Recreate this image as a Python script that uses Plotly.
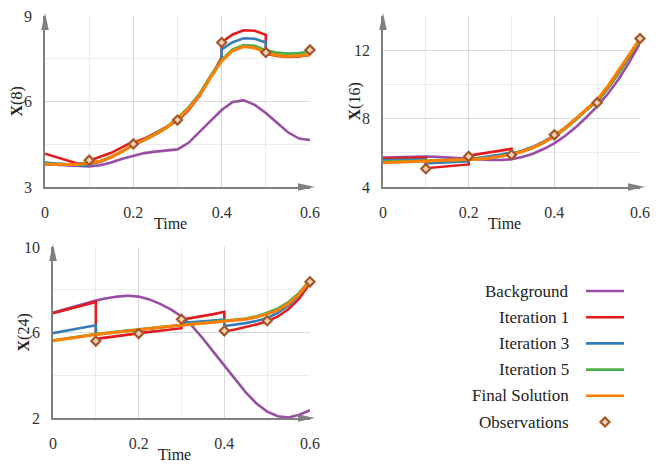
import plotly.graph_objects as go

# time grids: smooth curves and assimilation windows (repeated times = jumps)
t_smooth = [0, 0.025, 0.05, 0.075, 0.1, 0.125, 0.15, 0.175, 0.2, 0.225, 0.25, 0.275, 0.3,
            0.325, 0.35, 0.375, 0.4, 0.425, 0.45, 0.475, 0.5, 0.525, 0.55, 0.575, 0.6]
t_windows = [0, 0.025, 0.05, 0.075, 0.1,
             0.1, 0.125, 0.15, 0.175, 0.2,
             0.2, 0.225, 0.25, 0.275, 0.3,
             0.3, 0.325, 0.35, 0.375, 0.4,
             0.4, 0.425, 0.45, 0.475, 0.5,
             0.5, 0.525, 0.55, 0.575, 0.6]
t_obs = [0.1, 0.2, 0.3, 0.4, 0.5, 0.6]

# X(8)
x8_background = [3.80, 3.78, 3.76, 3.73, 3.72, 3.76, 3.86, 3.99, 4.10, 4.19, 4.24, 4.27, 4.32,
                 4.55, 4.92, 5.32, 5.70, 5.98, 6.04, 5.88, 5.60, 5.25, 4.92, 4.70, 4.65]
x8_iter1 = [4.17, 4.05, 3.93, 3.82, 3.85, 3.92, 4.06, 4.20, 4.40, 4.60,
            4.55, 4.70, 4.90, 5.10, 5.32, 5.32, 5.70, 6.20, 6.85, 7.55,
            8.08, 8.35, 8.50, 8.48, 8.34, 7.68, 7.60, 7.56, 7.58, 7.63]
x8_iter3 = [3.86, 3.83, 3.79, 3.76, 3.76, 3.80, 3.88, 4.04, 4.24, 4.47,
            4.47, 4.64, 4.84, 5.07, 5.37, 5.37, 5.74, 6.22, 6.86, 7.45,
            7.83, 8.08, 8.22, 8.20, 8.07, 7.70, 7.62, 7.58, 7.60, 7.65]
x8_iter5 = [3.82, 3.80, 3.79, 3.80, 3.84, 3.91, 4.06, 4.26, 4.49, 4.66, 4.87, 5.10, 5.41,
            5.79, 6.27, 6.90, 7.46, 7.83, 7.98, 7.95, 7.80, 7.71, 7.68, 7.70, 7.75]
x8_final = [3.80, 3.79, 3.78, 3.79, 3.83, 3.90, 4.05, 4.25, 4.48, 4.65, 4.85, 5.08, 5.38,
            5.75, 6.22, 6.85, 7.42, 7.78, 7.93, 7.88, 7.72, 7.62, 7.58, 7.60, 7.64]
x8_obs = [3.94, 4.51, 5.35, 8.07, 7.72, 7.81]

# X(16)
x16_background = [5.72, 5.74, 5.76, 5.77, 5.78, 5.76, 5.72, 5.68, 5.64, 5.60, 5.58, 5.58, 5.62,
                  5.75, 5.95, 6.22, 6.55, 6.98, 7.50, 8.08, 8.72, 9.45, 10.3, 11.3, 12.4]
x16_iter1 = [5.67, 5.68, 5.69, 5.70, 5.72, 5.10, 5.15, 5.20, 5.25, 5.32,
             5.83, 5.93, 6.03, 6.13, 6.23, 5.92, 6.10, 6.33, 6.62, 7.00,
             7.00, 7.45, 7.98, 8.55, 9.05, 8.98, 9.78, 10.65, 11.6, 12.6]
x16_iter3 = [5.57, 5.58, 5.58, 5.59, 5.60, 5.38, 5.41, 5.44, 5.47, 5.50,
             5.62, 5.70, 5.80, 5.90, 6.02, 5.95, 6.12, 6.35, 6.65, 7.02,
             7.02, 7.46, 8.00, 8.58, 9.08, 9.00, 9.80, 10.7, 11.65, 12.62]
x16_iter5 = [5.48, 5.49, 5.50, 5.51, 5.52, 5.54, 5.56, 5.58, 5.61, 5.65, 5.71, 5.79, 5.91,
             6.07, 6.29, 6.58, 6.95, 7.40, 7.92, 8.50, 9.00, 9.80, 10.68, 11.65, 12.62]
x16_final = [5.42, 5.44, 5.46, 5.48, 5.50, 5.52, 5.54, 5.57, 5.60, 5.64, 5.70, 5.78, 5.90,
             6.07, 6.30, 6.60, 6.98, 7.45, 8.00, 8.60, 9.10, 9.90, 10.8, 11.75, 12.7]
x16_obs = [5.07, 5.79, 5.88, 7.05, 8.93, 12.68]

# X(24)
x24_background = [6.93, 7.08, 7.22, 7.36, 7.50, 7.60, 7.68, 7.72, 7.68, 7.55, 7.34, 7.08, 6.75,
                  6.30, 5.72, 5.08, 4.45, 3.80, 3.20, 2.68, 2.30, 2.08, 2.02, 2.15, 2.36]
x24_iter1 = [6.90, 7.03, 7.17, 7.30, 7.43, 5.70, 5.77, 5.84, 5.91, 5.98,
             5.98, 6.03, 6.08, 6.14, 6.20, 6.60, 6.68, 6.77, 6.86, 6.97,
             6.05, 6.14, 6.25, 6.38, 6.52, 6.52, 6.75, 7.10, 7.60, 8.30]
x24_iter3 = [5.97, 6.07, 6.16, 6.25, 6.34, 5.90, 5.96, 6.02, 6.08, 6.14,
             6.14, 6.20, 6.25, 6.30, 6.35, 6.45, 6.48, 6.52, 6.56, 6.60,
             6.30, 6.36, 6.44, 6.54, 6.68, 6.68, 6.92, 7.28, 7.76, 8.38]
x24_iter5 = [5.63, 5.71, 5.79, 5.86, 5.92, 5.98, 6.04, 6.10, 6.15, 6.20, 6.25, 6.30, 6.35,
             6.40, 6.44, 6.48, 6.53, 6.58, 6.65, 6.76, 6.92, 7.12, 7.42, 7.86, 8.45]
x24_final = [5.61, 5.69, 5.77, 5.84, 5.91, 5.97, 6.03, 6.09, 6.14, 6.19, 6.24, 6.29, 6.34,
             6.39, 6.43, 6.47, 6.52, 6.56, 6.62, 6.72, 6.86, 7.05, 7.35, 7.80, 8.42]
x24_obs = [5.60, 5.95, 6.62, 6.08, 6.55, 8.37]

series_names = ["Background", "Iteration 1", "Iteration 3", "Iteration 5", "Final Solution", "Observations"]
series_colors = ["#984ea3", "#e41a1c", "#377eb8", "#4daf4a", "#ff7f00", "#a65628"]
series_widths = [2.6, 2.6, 2.6, 2.8, 3.0]

FONT = "Liberation Serif"
AXIS_GRAY = "#808080"

# the page body has an 8px margin, so the figure is made that much smaller
OFF = 8
W, H = 664 - OFF, 465 - OFF


def px_x(p):
    return (p - OFF) / W


def px_y(p):
    return 1 - (p - OFF) / H


panels = [
    # data, axis suffix, label, x pixels, y pixels, y range, y major, y minor
    ([x8_background, x8_iter1, x8_iter3, x8_iter5, x8_final, x8_obs], "", "8",
     (45, 310), (187, 16), [3, 9], 3, 1.5),
    ([x16_background, x16_iter1, x16_iter3, x16_iter5, x16_final, x16_obs], "2", "16",
     (383, 640), (187, 16), [4, 14], 4, 2),
    ([x24_background, x24_iter1, x24_iter3, x24_iter5, x24_final, x24_obs], "3", "24",
     (53, 310), (418, 247), [2, 10], 4, 2),
]

obs_marker = dict(symbol="diamond", size=7, color="#f2d2b6",
                  line=dict(color=series_colors[5], width=2.2))

fig = go.Figure()
annotations = []
shapes = []
layout_axes = {}

for data, sfx, label, xpx, ypx, yrng, ymaj, ymin in panels:
    xa, ya = "x" + sfx, "y" + sfx
    xdom = [px_x(xpx[0]), px_x(xpx[1])]
    ydom = [px_y(ypx[0]), px_y(ypx[1])]
    times = [t_smooth, t_windows, t_windows, t_smooth, t_smooth]
    for i in range(5):
        fig.add_trace(go.Scatter(x=times[i], y=data[i], mode="lines", xaxis=xa, yaxis=ya,
                                 line=dict(color=series_colors[i], width=series_widths[i]),
                                 showlegend=False, cliponaxis=False, hoverinfo="skip"))
    fig.add_trace(go.Scatter(x=t_obs, y=data[5], mode="markers", xaxis=xa, yaxis=ya,
                             marker=obs_marker, showlegend=False, cliponaxis=False,
                             hoverinfo="skip"))

    layout_axes["xaxis" + sfx] = dict(
        domain=xdom, anchor=ya, range=[0, 0.6], dtick=0.2, tick0=0, automargin=False,
        showgrid=True, gridcolor="#d9d9d9", gridwidth=1,
        minor=dict(dtick=0.1, showgrid=True, gridcolor="#ececec", gridwidth=1),
        showline=True, linecolor=AXIS_GRAY, linewidth=1.5, zeroline=False,
        ticks="", ticklabelstandoff=10, ticklabeloverflow="allow",
        tickfont=dict(family=FONT, size=16, color="#333"))
    layout_axes["yaxis" + sfx] = dict(
        domain=ydom, anchor=xa, range=yrng, dtick=ymaj, tick0=yrng[0], automargin=False,
        showgrid=True, gridcolor="#d9d9d9", gridwidth=1,
        minor=dict(dtick=ymin, showgrid=True, gridcolor="#ececec", gridwidth=1),
        showline=True, linecolor=AXIS_GRAY, linewidth=1.5, zeroline=False,
        ticks="", ticklabelstandoff=8, ticklabeloverflow="allow",
        tickfont=dict(family=FONT, size=16, color="#333"))

    # axis arrowheads
    shapes.append(dict(type="path", xref="paper", yref="paper", xsizemode="pixel", ysizemode="pixel",
                       xanchor=xdom[1], yanchor=ydom[0], path="M -12,3.8 L 5,0 L -12,-3.8 Z",
                       fillcolor=AXIS_GRAY, line=dict(width=0)))
    shapes.append(dict(type="path", xref="paper", yref="paper", xsizemode="pixel", ysizemode="pixel",
                       xanchor=xdom[0], yanchor=ydom[1], path="M -3.8,-14 L 0,3 L 3.8,-14 Z",
                       fillcolor=AXIS_GRAY, line=dict(width=0)))

    # axis titles
    annotations.append(dict(text="Time", xref="paper", yref="paper", x=(xdom[0] + xdom[1]) / 2 - 0.01,
                            y=ydom[0], yshift=-36, xanchor="center", yanchor="middle", showarrow=False,
                            font=dict(family=FONT, size=16, color="#222")))
    annotations.append(dict(text="<b>X</b>(" + label + ")", xref="paper", yref="paper", x=xdom[0],
                            xshift=-29, y=(ydom[0] + ydom[1]) / 2, textangle=-90,
                            xanchor="center", yanchor="middle", showarrow=False,
                            font=dict(family=FONT, size=16, color="#222")))

# legend drawn in its own hidden axis
for i in range(5):
    fig.add_trace(go.Scatter(x=[0, 1], y=[i, i], mode="lines", xaxis="x4", yaxis="y4",
                             line=dict(color=series_colors[i], width=2.6),
                             showlegend=False, hoverinfo="skip"))
fig.add_trace(go.Scatter(x=[0.5], y=[5], mode="markers", xaxis="x4", yaxis="y4",
                         marker=obs_marker, showlegend=False, hoverinfo="skip"))
for i, name in enumerate(series_names):
    annotations.append(dict(text=name, xref="x4", yref="y4", x=0, xshift=-15, y=i,
                            xanchor="right", yanchor="middle", showarrow=False,
                            font=dict(family=FONT, size=17, color="#222")))

layout_axes["xaxis4"] = dict(domain=[px_x(586), px_x(624)], anchor="y4", range=[0, 1], visible=False)
layout_axes["yaxis4"] = dict(domain=[px_y(435.1), px_y(277.9)], anchor="x4", range=[5.5, -0.5],
                             visible=False)

fig.update_layout(**layout_axes)
fig.update_layout(
    width=W, height=H, margin=dict(l=0, r=0, t=0, b=0),
    paper_bgcolor="white", plot_bgcolor="white",
    font=dict(family=FONT, size=16, color="#222"),
    annotations=annotations, shapes=shapes, showlegend=False,
)

fig.write_html("out.html")
